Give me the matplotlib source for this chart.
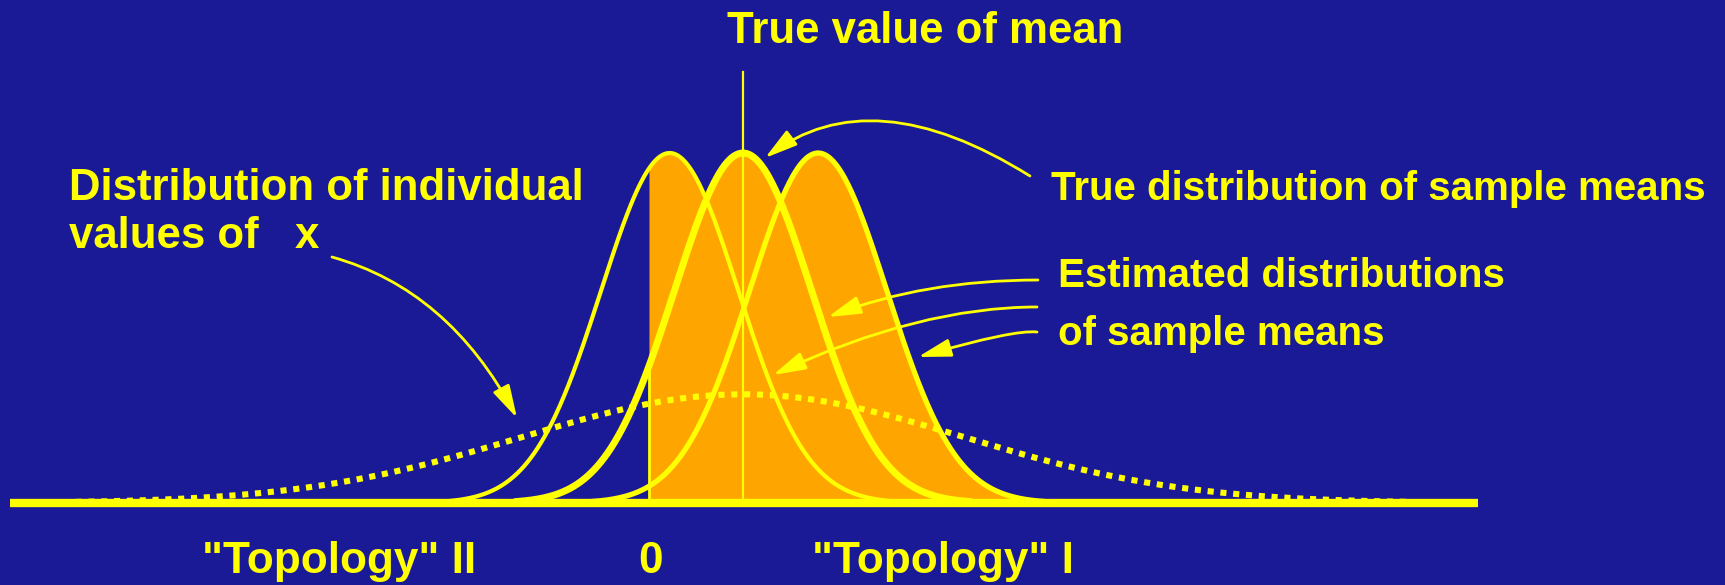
import matplotlib.pyplot as plt
import numpy as np

# colours
bg = '#1a1a96'
yellow = '#ffff00'
orange = '#ffa500'

# distribution parameters (x in units where the true mean is 1)
true_mean = 1.0
est_means = [0.22, 1.8]
se_mean = 0.73          # sd of sample means
sd_indiv = 2.35         # sd of individual values
half_span = 2.4         # how far each sample-mean curve is drawn from its centre
indiv_range = [-6.1, 8.1]
base_range = [-6.8, 8.82]
mean_line_top = 0.673

# text labels
title_txt = 'True value of mean'
right_txt = ['True distribution of sample means', 'Estimated distributions', 'of sample means']
left_txt = ['Distribution of individual', 'values of   x']
bottom_txt = ['"Topology" II', '0', '"Topology" I']


def pdf(x, m, s):
    return np.exp(-0.5 * ((x - m) / s) ** 2) / (s * np.sqrt(2 * np.pi))


fig = plt.figure(figsize=(17.25, 5.85), dpi=100)
fig.patch.set_facecolor(bg)
ax = fig.add_axes([0, 0, 1, 1])
ax.set_facecolor(bg)
ax.set_xlim(-6.904, 11.447)
ax.set_ylim(-0.128, 0.7854)
ax.axis('off')

# curves of sample means
xl = np.linspace(est_means[0] - half_span, est_means[0] + half_span, 400)
xm = np.linspace(true_mean - half_span, true_mean + half_span, 400)
xr = np.linspace(est_means[1] - half_span, est_means[1] + half_span, 400)
yl = pdf(xl, est_means[0], se_mean)
ym = pdf(xm, true_mean, se_mean)
yr = pdf(xr, est_means[1], se_mean)

# orange area right of zero under the highest curve
xf = np.linspace(0, est_means[1] + half_span, 600)
yf = np.maximum.reduce([pdf(xf, m, se_mean) for m in [est_means[0], true_mean, est_means[1]]])
ax.fill_between(xf, 0, yf, color=orange, lw=0, zorder=1)

# individual values, dotted
xd = np.linspace(indiv_range[0], indiv_range[1], 600)
ax.plot(xd, pdf(xd, true_mean, sd_indiv), color=yellow, lw=4.4, ls=(0, (1.0, 1.1)),
        dash_capstyle='butt', zorder=3)

ax.plot([0, 0], [0, pdf(0, true_mean, se_mean)], color=yellow, lw=2, zorder=2)
ax.plot([true_mean, true_mean], [0, mean_line_top], color=yellow, lw=1.6, zorder=2)

ax.plot(xl, yl, color=yellow, lw=3, zorder=4)
ax.plot(xr, yr, color=yellow, lw=3.8, zorder=4)
ax.plot(xm, ym, color=yellow, lw=5, zorder=4)

# baseline
ax.plot(base_range, [0, 0], color=yellow, lw=6, solid_capstyle='butt', zorder=5)

font = dict(family='Liberation Sans', weight='bold', color=yellow)
ax.text(2.936, 0.7183, title_txt, ha='center', va='baseline', size=31.5, **font)
ax.text(4.277, 0.4731, right_txt[0], ha='left', va='baseline', size=29, **font)
ax.text(4.351, 0.3373, right_txt[1], ha='left', va='baseline', size=29, **font)
ax.text(4.351, 0.2467, right_txt[2], ha='left', va='baseline', size=29, **font)
ax.text(-6.17, 0.4731, left_txt[0], ha='left', va='baseline', size=31.5, **font)
ax.text(-6.17, 0.3975, left_txt[1], ha='left', va='baseline', size=31.5, **font)
ax.text(-4.76, -0.1093, bottom_txt[0], ha='left', va='baseline', size=31.8, **font)
ax.text(0.02, -0.1093, bottom_txt[1], ha='center', va='baseline', size=31.8, **font)
ax.text(1.734, -0.1093, bottom_txt[2], ha='left', va='baseline', size=31.8, **font)

# arrows: (start, tip, angleA, angleB)
arrows = [
    ((4.053, 0.5106), (1.234, 0.5387), 148, 37),
    ((4.138, 0.3482), (1.904, 0.2904), 0, 21),
    ((4.128, 0.3061), (1.319, 0.1999), 0, 25),
    ((4.128, 0.2670), (2.862, 0.2280), -6.7, 16),
    ((-3.372, 0.3841), (-1.404, 0.1327), -15.5, -62),
]
for start, tip, a, b in arrows:
    ax.annotate('', xy=tip, xytext=start, zorder=6,
                arrowprops=dict(arrowstyle='-|>,head_length=2.0,head_width=0.55',
                                mutation_scale=10, color=yellow, lw=2,
                                shrinkA=0, shrinkB=0,
                                connectionstyle=f'angle3,angleA={a},angleB={b}'))

plt.savefig('out.png', dpi=100, facecolor=bg)
